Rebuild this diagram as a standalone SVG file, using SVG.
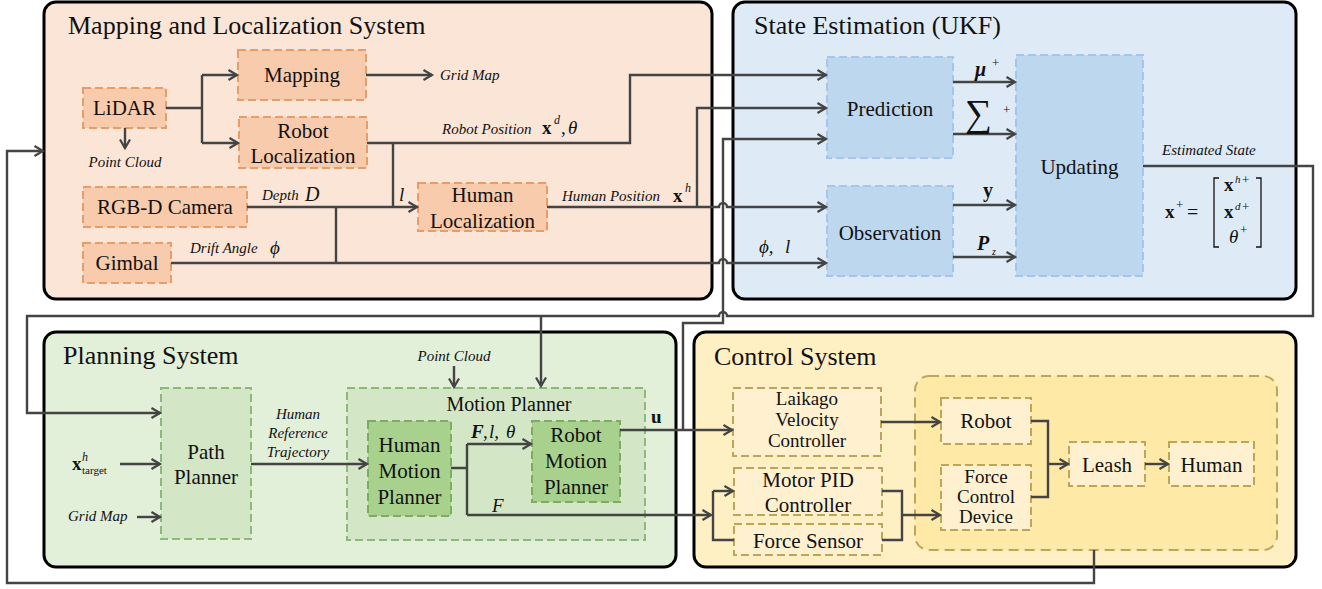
<svg xmlns="http://www.w3.org/2000/svg" width="1322" height="589" viewBox="0 0 1322 589" font-family="Liberation Serif, Times New Roman, Tinos, Noto Serif, DejaVu Serif, serif">
<defs>
<marker id="arr" markerUnits="userSpaceOnUse" markerWidth="14" markerHeight="14" refX="11" refY="7" orient="auto">
<path d="M2.5,2 L11,7 L2.5,12" fill="none" stroke="#444" stroke-width="2.2" stroke-linejoin="miter"/>
</marker>
<style>
text{fill:#111}
.ttl{font-size:26px}
.t{font-size:21px;text-anchor:middle}
.ts{font-size:19px;text-anchor:middle}
.lbl{font-size:15px;font-style:italic}
.panel{stroke:#000;stroke-width:3}
.mnode{fill:#f8cbad;stroke:#e59d6a;stroke-width:2;stroke-dasharray:8 4}
.snode{fill:#bdd7ee;stroke:#a3c6ea;stroke-width:2;stroke-dasharray:8 4}
.pnode{fill:#d3e6c5;stroke:#8db87a;stroke-width:2;stroke-dasharray:8 4}
.pnode2{fill:#a9d18e;stroke:#7eab63;stroke-width:2;stroke-dasharray:8 4}
.cnode{fill:#fff1d0;stroke:#bfa55a;stroke-width:2;stroke-dasharray:8 4}
.cin{fill:#ffe9a6;stroke:#bfa55a;stroke-width:2;stroke-dasharray:10 6}
.c{fill:none;stroke:#444;stroke-width:2.4}
.a{marker-end:url(#arr)}
.bx{font-weight:bold}
.m{font-style:italic}
</style>
</defs>

<!-- Panels -->
<g id="panel-mapping">
<rect x="44" y="2" width="668" height="297" rx="12" class="panel" fill="#fbe5d6"/>
<text x="68" y="34" class="ttl">Mapping and Localization System</text>
</g>
<g id="panel-state">
<rect x="733" y="2" width="563" height="297" rx="12" class="panel" fill="#deebf7"/>
<text x="754" y="34" class="ttl">State Estimation (UKF)</text>
</g>
<g id="panel-planning">
<rect x="44" y="332" width="632" height="235" rx="12" class="panel" fill="#e2efd9"/>
<text x="63" y="364" class="ttl">Planning System</text>
</g>
<g id="panel-control">
<rect x="694" y="332" width="602" height="235" rx="12" class="panel" fill="#fff0c4"/>
<text x="714" y="365" class="ttl">Control System</text>
</g>

<!-- Mapping nodes -->
<g id="lidar"><rect x="83" y="88" width="83" height="40" class="mnode"/><text x="124.5" y="115" class="t">LiDAR</text></g>
<g id="mapping"><rect x="238" y="50" width="128" height="50" class="mnode"/><text x="302" y="82" class="t">Mapping</text></g>
<g id="robot-localization"><rect x="239" y="117" width="128" height="51" class="mnode"/><text x="303" y="138" class="t">Robot</text><text x="303" y="163" class="t">Localization</text></g>
<g id="rgbd-camera"><rect x="83" y="187" width="164" height="40" class="mnode"/><text x="165" y="214" class="t">RGB-D Camera</text></g>
<g id="gimbal"><rect x="83" y="243" width="88" height="40" class="mnode"/><text x="127" y="270" class="t">Gimbal</text></g>
<g id="human-localization"><rect x="418" y="183" width="129" height="48" class="mnode"/><text x="482.5" y="202" class="t">Human</text><text x="482.5" y="228" class="t">Localization</text></g>

<!-- State estimation nodes -->
<g id="prediction"><rect x="827" y="57" width="126" height="101" class="snode"/><text x="890" y="116" class="t">Prediction</text></g>
<g id="observation"><rect x="827" y="186" width="126" height="90" class="snode"/><text x="890" y="240" class="t">Observation</text></g>
<g id="updating"><rect x="1016" y="55" width="127" height="221" class="snode"/><text x="1079.5" y="174" class="t">Updating</text></g>

<!-- Planning nodes -->
<g id="path-planner"><rect x="161" y="388" width="90" height="151" class="pnode"/><text x="206" y="459" class="t">Path</text><text x="206" y="484" class="t">Planner</text></g>
<g id="motion-planner"><rect x="347" y="388" width="298" height="152" class="pnode"/><text x="509" y="411" class="t" style="font-size:20px">Motion Planner</text></g>
<g id="human-motion-planner"><rect x="368" y="421" width="83" height="95" class="pnode2"/><text x="409.5" y="452" class="t">Human</text><text x="409.5" y="478" class="t">Motion</text><text x="409.5" y="504" class="t">Planner</text></g>
<g id="robot-motion-planner"><rect x="532" y="421" width="88" height="81" class="pnode2"/><text x="576" y="442" class="t">Robot</text><text x="576" y="468" class="t">Motion</text><text x="576" y="494" class="t">Planner</text></g>

<!-- Control nodes -->
<g id="plant-group"><rect x="915" y="376" width="362" height="174" rx="14" class="cin"/></g>
<g id="laikago-controller"><rect x="733" y="388" width="148" height="68" class="cnode"/><text x="807" y="405" class="ts">Laikago</text><text x="807" y="426" class="ts">Velocity</text><text x="807" y="447" class="ts">Controller</text></g>
<g id="motor-pid"><rect x="734" y="468" width="148" height="47" class="cnode"/><text x="808" y="487" class="t">Motor PID</text><text x="808" y="512" class="t">Controller</text></g>
<g id="force-sensor"><rect x="734" y="524" width="148" height="31" class="cnode"/><text x="808" y="548" class="t">Force Sensor</text></g>
<g id="robot"><rect x="941" y="398" width="90" height="46" class="cnode"/><text x="986" y="428" class="t">Robot</text></g>
<g id="force-control-device"><rect x="941" y="465" width="90" height="65" class="cnode"/><text x="986" y="483" class="ts">Force</text><text x="986" y="503" class="ts">Control</text><text x="986" y="523" class="ts">Device</text></g>
<g id="leash"><rect x="1069" y="442" width="76" height="44" class="cnode"/><text x="1107" y="472" class="t">Leash</text></g>
<g id="human"><rect x="1169" y="442" width="85" height="44" class="cnode"/><text x="1211.5" y="472" class="t">Human</text></g>

<!-- Connectors -->
<g id="connectors">
<path class="c" d="M166,108 H202 M202,75 V143"/>
<path class="c a" d="M202,75 H237"/>
<path class="c a" d="M202,143 H238"/>
<path class="c a" d="M125,128 V148"/>
<path class="c a" d="M366,75 H432"/>
<path class="c a" d="M367,143 H630 V75 H826"/>
<path class="c" d="M393,143 V207"/>
<path class="c a" d="M247,207 H417"/>
<path class="c" d="M336,207 V263"/>
<path class="c a" d="M171,263 H719 A4,4 0 0 1 727,263 H826"/>
<path class="c a" d="M547,207 H719 A4,4 0 0 1 727,207 H826"/>
<path class="c a" d="M697,207 V108 H826"/>
<path class="c a" d="M683,430 V323 H723 V139 H826"/>
<path class="c a" d="M953,82 H1015"/>
<path class="c a" d="M953,134 H1015"/>
<path class="c a" d="M953,205 H1015"/>
<path class="c a" d="M953,257 H1015"/>
<path class="c a" d="M1143,166 H1313 V316 H727 A4,4 0 0 0 719,316 H27 V413 H160"/>
<path class="c a" d="M541,316 V386"/>
<path class="c a" d="M120,464 H160"/>
<path class="c a" d="M137,517 H160"/>
<path class="c a" d="M251,464 H367"/>
<path class="c" d="M451,468 H467 M467,444 V515"/>
<path class="c a" d="M467,444 H531"/>
<path class="c a" d="M467,515 H711"/>
<path class="c" d="M713,491 V540 H734"/>
<path class="c a" d="M713,491 H733"/>
<path class="c a" d="M454,366 V387"/>
<path class="c a" d="M620,430 H732"/>
<path class="c a" d="M881,422 H940"/>
<path class="c" d="M882,491 H902 V540 H882"/>
<path class="c a" d="M902,515 H940"/>
<path class="c" d="M1031,421 H1048 V497 H1031"/>
<path class="c a" d="M1048,464 H1068"/>
<path class="c a" d="M1145,464 H1168"/>
<path class="c a" d="M1094,550 V583 H7 V151 H43"/>
</g>

<!-- Labels -->
<g id="labels">
<text x="125" y="167" class="lbl" text-anchor="middle">Point Cloud</text>
<text x="440" y="80" class="lbl">Grid Map</text>
<text x="442" y="134" class="lbl">Robot Position</text>
<text x="542" y="134" class="bx" style="font-size:19px">x</text>
<text x="554" y="124" class="m" style="font-size:12px">d</text>
<text x="561" y="134" style="font-size:19px">,</text>
<text x="568" y="134" class="m" style="font-size:19px">θ</text>
<text x="262" y="200" class="lbl">Depth</text>
<text x="305" y="201" class="m" style="font-size:20px">D</text>
<text x="399" y="201" class="m" style="font-size:19px">l</text>
<text x="190" y="253" class="lbl">Drift Angle</text>
<text x="270" y="254" class="m" style="font-size:19px">ϕ</text>
<text x="562" y="201" class="lbl">Human Position</text>
<text x="673" y="202" class="bx" style="font-size:19px">x</text>
<text x="685" y="192" class="m" style="font-size:12px">h</text>
<text x="759" y="253" class="m" style="font-size:19px">ϕ,</text>
<text x="785" y="253" class="m" style="font-size:19px">l</text>
<text x="975" y="76" class="m bx" style="font-size:20px">μ</text>
<text x="992" y="67" style="font-size:13px">+</text>
<text x="965" y="126" style="font-size:38px">∑</text>
<text x="1003" y="114" style="font-size:13px">+</text>
<text x="983" y="197" class="bx" style="font-size:20px">y</text>
<text x="977" y="250" class="m bx" style="font-size:20px">P</text>
<text x="992" y="255" class="m" style="font-size:10px">z</text>
<text x="1162" y="155" class="lbl">Estimated State</text>
<text x="1165" y="218" class="bx" style="font-size:19px">x</text>
<text x="1176" y="209" style="font-size:13px">+</text>
<text x="1187" y="219" style="font-size:20px">=</text>
<path d="M1219,178 H1214 V247 H1219 M1256,178 H1261 V247 H1256" fill="none" stroke="#111" stroke-width="1.3"/>
<text x="1224" y="191" class="bx" style="font-size:19px">x</text>
<text x="1235" y="183" class="m" style="font-size:11px">h</text>
<text x="1242" y="184" style="font-size:13px">+</text>
<text x="1224" y="218" class="bx" style="font-size:19px">x</text>
<text x="1235" y="210" class="m" style="font-size:11px">d</text>
<text x="1242" y="211" style="font-size:13px">+</text>
<text x="1229" y="243" class="m" style="font-size:19px">θ</text>
<text x="1240" y="234" style="font-size:13px">+</text>
<text x="298" y="419" class="lbl" text-anchor="middle">Human</text>
<text x="298" y="438" class="lbl" text-anchor="middle">Reference</text>
<text x="298" y="457" class="lbl" text-anchor="middle">Trajectory</text>
<text x="72" y="470" class="bx" style="font-size:19px">x</text>
<text x="82" y="461" class="m" style="font-size:12px">h</text>
<text x="82" y="474" style="font-size:11px">target</text>
<text x="68" y="521" class="lbl">Grid Map</text>
<text x="454" y="361" class="lbl" text-anchor="middle">Point Cloud</text>
<text x="471" y="438" class="m bx" style="font-size:19px">F</text>
<text x="483" y="438" style="font-size:19px">,</text>
<text x="489" y="438" class="m" style="font-size:19px">l,</text>
<text x="506" y="438" class="m" style="font-size:19px">θ</text>
<text x="492" y="512" class="m" style="font-size:19px">F</text>
<text x="651" y="423" class="bx" style="font-size:19px">u</text>
</g>
</svg>
